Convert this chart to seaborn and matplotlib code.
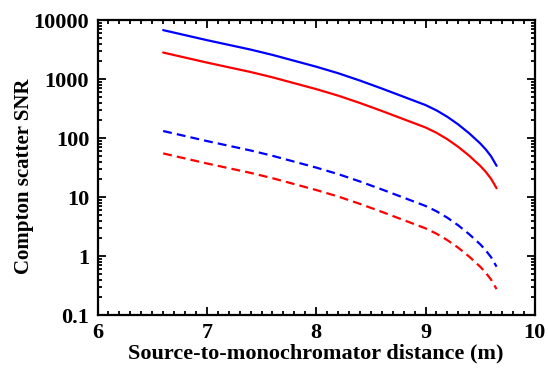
import numpy as np
import pandas as pd
import seaborn as sns
import matplotlib.pyplot as plt
from matplotlib.ticker import LogLocator, MultipleLocator, FixedLocator, NullFormatter

# distancia fonte-monocromador (m)
distancia = [6.6, 6.8, 7.0, 7.2, 7.4, 7.6, 7.8, 8.0, 8.2, 8.4, 8.6, 8.8,
             9.0, 9.1, 9.2, 9.3, 9.4, 9.5, 9.55, 9.6, 9.65]

# log10 do SNR
log_azul_cheio = [3.83, 3.745, 3.66, 3.58, 3.50, 3.41, 3.31, 3.21, 3.10, 2.975, 2.84, 2.70,
                  2.56, 2.47, 2.36, 2.23, 2.08, 1.91, 1.81, 1.69, 1.53]
log_verm_cheio = [3.45, 3.365, 3.28, 3.20, 3.12, 3.03, 2.93, 2.83, 2.72, 2.595, 2.46, 2.32,
                  2.18, 2.09, 1.98, 1.85, 1.70, 1.53, 1.43, 1.31, 1.15]
log_azul_trac = [2.12, 2.035, 1.95, 1.87, 1.79, 1.70, 1.60, 1.50, 1.39, 1.265, 1.13, 0.99,
                 0.85, 0.76, 0.65, 0.52, 0.37, 0.20, 0.10, -0.02, -0.18]
log_verm_trac = [1.74, 1.655, 1.57, 1.49, 1.41, 1.32, 1.22, 1.12, 1.01, 0.885, 0.75, 0.61,
                 0.47, 0.38, 0.27, 0.14, -0.01, -0.18, -0.28, -0.40, -0.56]

series = {
    'azul_cheio': (log_azul_cheio, 'blue', ''),
    'verm_cheio': (log_verm_cheio, 'red', ''),
    'azul_trac': (log_azul_trac, 'blue', (4, 2.3)),
    'verm_trac': (log_verm_trac, 'red', (4, 2.3)),
}

sns.set_style('ticks')
plt.rcParams['font.family'] = ['Liberation Serif', 'DejaVu Serif']
plt.rcParams['font.weight'] = 'bold'
plt.rcParams['axes.labelweight'] = 'bold'
for k in ['text.color', 'axes.labelcolor', 'xtick.color', 'ytick.color', 'axes.edgecolor']:
    plt.rcParams[k] = 'black'

fig = plt.figure(figsize=(5.48, 3.72), dpi=100)
ax = fig.add_axes([0.178, 0.153, 0.798, 0.793])

for nome, (vals, cor, tracejado) in series.items():
    df = pd.DataFrame({'x': distancia, 'y': 10 ** np.array(vals)})
    linha = sns.lineplot(data=df, x='x', y='y', ax=ax, color=cor, linewidth=1.6)
    if tracejado:
        linha.lines[-1].set_dashes(tracejado)

ax.set_yscale('log')
ax.set_xlim(6, 10)
ax.set_ylim(0.1, 10000)
ax.xaxis.set_major_locator(FixedLocator([6, 7, 8, 9, 10]))
ax.xaxis.set_minor_locator(MultipleLocator(0.1))
ax.yaxis.set_major_locator(FixedLocator([0.1, 1, 10, 100, 1000, 10000]))
ax.yaxis.set_minor_locator(LogLocator(base=10, subs=np.arange(2, 10)))
ax.yaxis.set_minor_formatter(NullFormatter())
ax.set_yticklabels(['0.1', '1', '10', '100', '1000', '10000'])
ax.set_xticklabels(['6', '7', '8', '9', '10'])

for s in ax.spines.values():
    s.set_linewidth(1.6)
ax.tick_params(which='both', direction='in', top=True, right=True, width=1.3)
ax.tick_params(which='major', length=6, labelsize=16, pad=6)
ax.tick_params(which='minor', length=3)

ax.set_xlabel('Source-to-monochromator distance (m)', fontsize=16, labelpad=0)
ax.set_ylabel('Compton scatter SNR', fontsize=15, labelpad=0)
ax.yaxis.set_label_coords(-0.145, 0.47)

plt.savefig('out.png', dpi=100)
